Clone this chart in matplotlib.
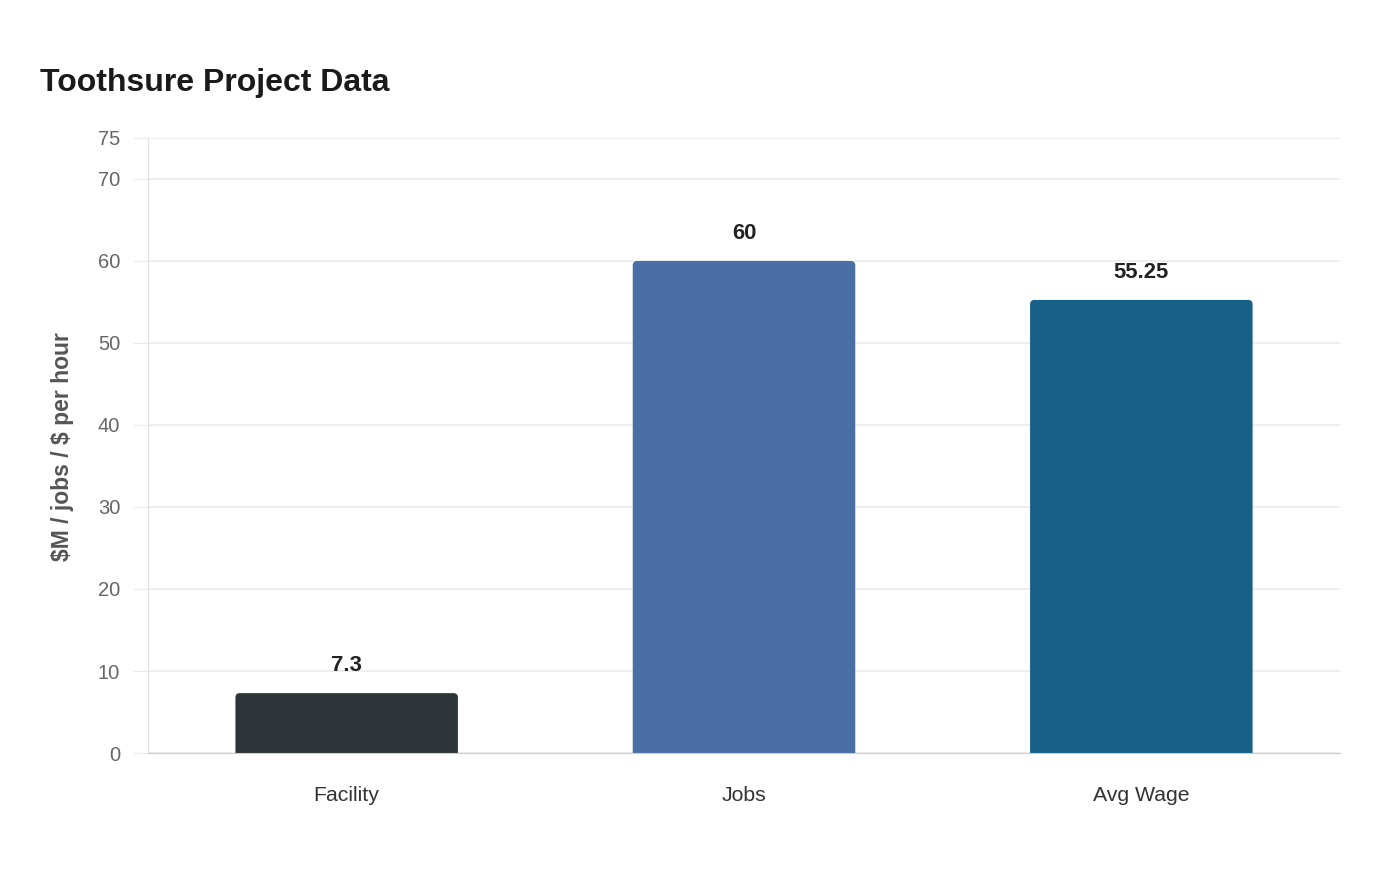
import matplotlib
matplotlib.use("Agg")
import matplotlib.pyplot as plt
from matplotlib.patches import FancyBboxPatch

plt.rcParams['font.family'] = ['Liberation Sans', 'DejaVu Sans']

categories = ['Facility', 'Jobs', 'Avg Wage']
values = [7.3, 60, 55.25]
value_labels = ['7.3', '60', '55.25']
colors = ['#2e3538', '#4a6fa5', '#176087']
yticks = [0, 10, 20, 30, 40, 50, 60, 70, 75]

fig = plt.figure(figsize=(14, 8.8), dpi=100)
ax = fig.add_axes([148/1400, 1-753/880, (1340-148)/1400, (753-138)/880])

ax.set_xlim(-0.5, 2.5)
ax.set_ylim(0, 75)

bw = 0.56
# px-per-unit ratio for rounded corners
ax_w = 1340 - 148
ax_h = 753 - 138
aspect = (75 / ax_h) / (3 / ax_w)
for i, (v, c) in enumerate(zip(values, colors)):
    p = FancyBboxPatch((i - bw/2, -2), bw, v + 2,
                       boxstyle="round,pad=0,rounding_size=0.011",
                       mutation_aspect=aspect, facecolor=c, edgecolor='none',
                       zorder=3, clip_on=True)
    ax.add_patch(p)
    ax.annotate(value_labels[i], (i, v), xytext=(0, 12), textcoords='offset points',
                ha='center', va='bottom', fontsize=15.9, fontweight='bold', color='#222222')

ax.set_xticks(range(len(categories)))
ax.set_xticklabels(categories, fontsize=15.3, color='#333333')
ax.tick_params(axis='x', length=0, pad=24)
ax.set_yticks(yticks)
ax.set_yticklabels([str(t) for t in yticks], fontsize=14.5, color='#666666')
ax.tick_params(axis='y', length=11, color='#ebebeb', pad=9)

ax.grid(axis='y', color='#ebebeb', linewidth=1.2, zorder=0)
ax.set_axisbelow(True)
for s in ['top', 'right']:
    ax.spines[s].set_visible(False)
ax.spines['left'].set_color('#e0e0e0')
ax.spines['bottom'].set_color('#cccccc')
ax.spines['bottom'].set_zorder(4)

fig.text(40/1400, 1-91/880, 'Toothsure Project Data', fontsize=23, fontweight='bold',
         color='#1a1a1a', ha='left', va='baseline')
fig.text(63/1400, 0.493, r'\$M / jobs / \$ per hour', rotation=90, fontsize=16.5,
         fontweight='bold', color='#555555', ha='center', va='center')

fig.savefig('out.png', dpi=100)
